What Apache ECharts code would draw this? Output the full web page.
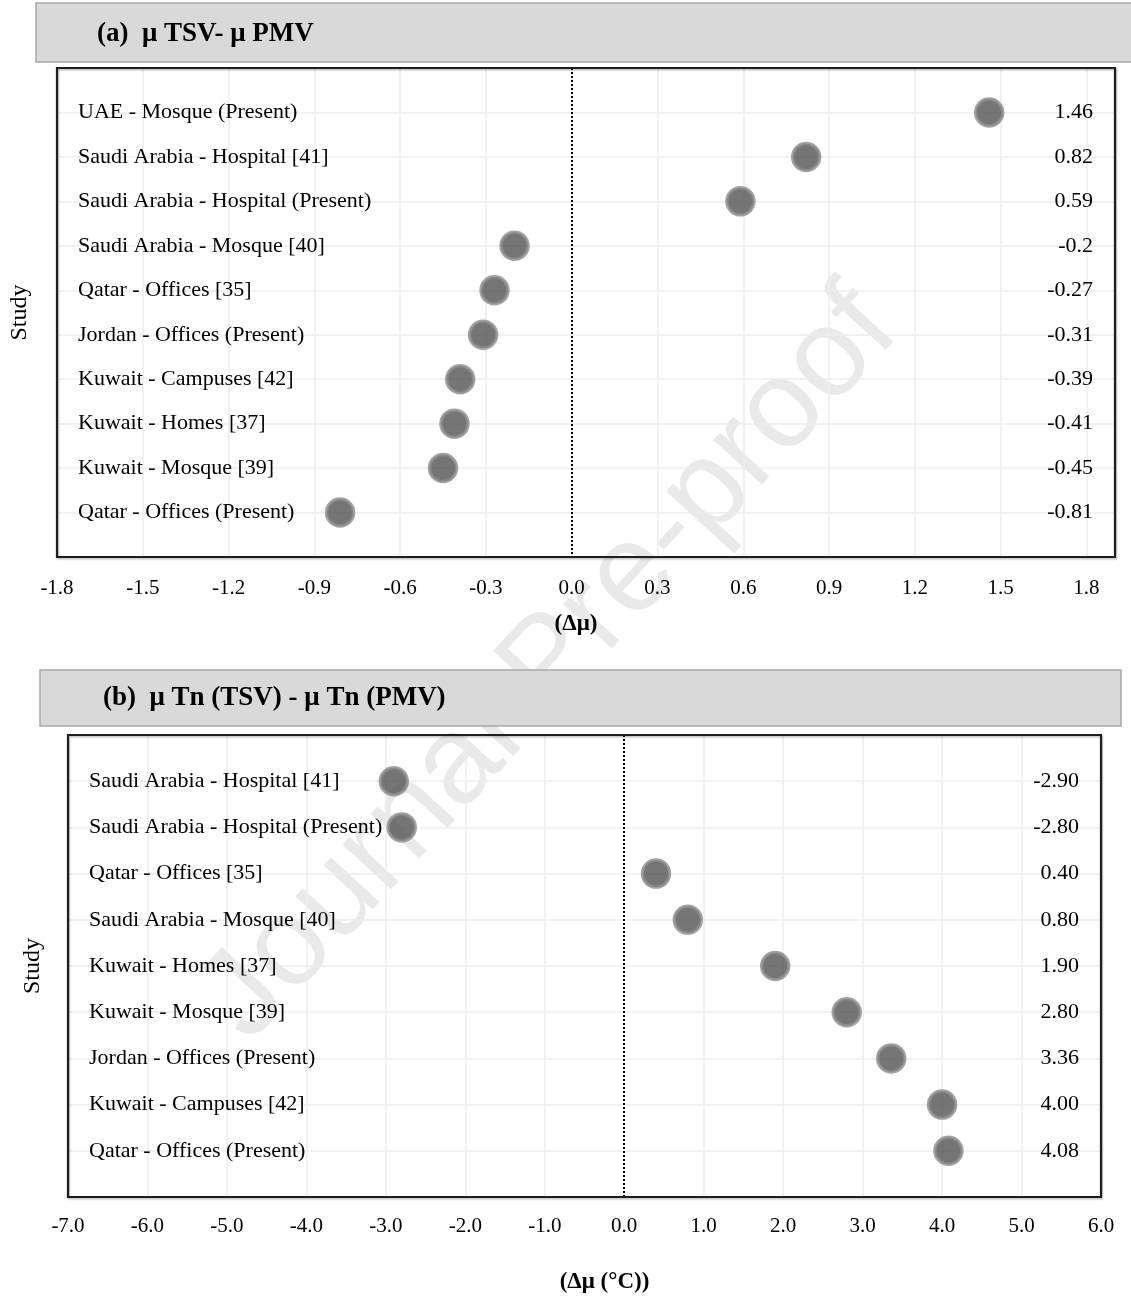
<!DOCTYPE html>
<html>
<head>
<meta charset="utf-8">
<script src="https://cdn.jsdelivr.net/npm/echarts@6/dist/echarts.min.js"></script>
<style>
html,body{margin:0;padding:0;background:#fff;}
#chart{width:1131px;height:1304px;}
</style>
</head>
<body>
<div id="chart"></div>
<script>
// Panel (a): mean TSV - mean PMV
const catsA = ['UAE - Mosque (Present)', 'Saudi Arabia - Hospital [41]', 'Saudi Arabia - Hospital (Present)', 'Saudi Arabia - Mosque [40]', 'Qatar - Offices [35]', 'Jordan - Offices (Present)', 'Kuwait - Campuses [42]', 'Kuwait - Homes [37]', 'Kuwait - Mosque [39]', 'Qatar - Offices (Present)'];
const valsA = [1.46, 0.82, 0.59, -0.2, -0.27, -0.31, -0.39, -0.41, -0.45, -0.81];
// Panel (b): mean Tn(TSV) - mean Tn(PMV)
const catsB = ['Saudi Arabia - Hospital [41]', 'Saudi Arabia - Hospital (Present)', 'Qatar - Offices [35]', 'Saudi Arabia - Mosque [40]', 'Kuwait - Homes [37]', 'Kuwait - Mosque [39]', 'Jordan - Offices (Present)', 'Kuwait - Campuses [42]', 'Qatar - Offices (Present)'];
const valsB = [-2.90, -2.80, 0.40, 0.80, 1.90, 2.80, 3.36, 4.00, 4.08];

const titleA = '(a)  \u03bc TSV- \u03bc PMV';
const titleB = '(b)  \u03bc Tn (TSV) - \u03bc Tn (PMV)';
const xNameA = '(\u0394\u03bc)';
const xNameB = '(\u0394\u03bc (\u00b0C))';

const SERIF = '"Liberation Serif", "Times New Roman", serif';
const chart = echarts.init(document.getElementById('chart'), null, {renderer: 'canvas'});

const GA = {left: 57, top: 68, width: 1058, height: 489};
const GB = {left: 68, top: 735, width: 1033, height: 462};

function yAxes(cats, vals, gridIndex, valFmt, gap) {
  const n = cats.length + 1;
  return [
    {
      type: 'value', gridIndex, min: 0, max: n, interval: 1, inverse: true,
      name: 'Study', nameLocation: 'middle', nameRotate: 90, nameGap: gap,
      nameTextStyle: {fontFamily: SERIF, fontSize: 24, color: '#000'},
      axisLine: {show: false}, axisTick: {show: false},
      splitLine: {show: true, lineStyle: {color: '#ececec', width: 1.5}},
      axisLabel: {inside: true, margin: 21, fontFamily: SERIF, fontSize: 22, color: '#000',
        showMinLabel: false, showMaxLabel: false,
        formatter: v => cats[Math.round(v) - 1] || ''}
    },
    {
      type: 'value', gridIndex, position: 'right', min: 0, max: n, interval: 1, inverse: true,
      axisLine: {show: false}, axisTick: {show: false}, splitLine: {show: false},
      axisLabel: {inside: true, margin: 22, fontFamily: SERIF, fontSize: 22, color: '#000',
        showMinLabel: false, showMaxLabel: false,
        formatter: v => { const x = vals[Math.round(v) - 1]; return x === undefined ? '' : valFmt(x); }}
    }
  ];
}

const dotStyle = {color: '#525252', borderColor: '#8d8d8d', borderWidth: 3.5};
const zeroLine = {
  silent: true, symbol: 'none', animation: false,
  label: {show: false},
  lineStyle: {type: 'dotted', color: '#000', width: 2},
  data: [{xAxis: 0}]
};

function frame(g) {
  return {type: 'rect', z: 20, silent: true,
    shape: {x: g.left, y: g.top, width: g.width, height: g.height},
    style: {fill: null, stroke: '#1e1e1e', lineWidth: 2.2,
      shadowColor: 'rgba(0,0,0,0.25)', shadowOffsetX: 1, shadowOffsetY: 1.5, shadowBlur: 1.5}};
}

const option = {
  animation: false,
  backgroundColor: '#fff',
  grid: [
    Object.assign({show: false, containLabel: false, outerBoundsMode: 'none'}, GA),
    Object.assign({show: false, containLabel: false, outerBoundsMode: 'none'}, GB)
  ],
  xAxis: [
    {
      type: 'value', gridIndex: 0, min: -1.8, max: 1.9, interval: 0.3,
      name: xNameA, nameLocation: 'middle', nameGap: 56,
      nameTextStyle: {fontFamily: SERIF, fontSize: 23, fontWeight: 'bold', color: '#000', padding: [0, 20, 0, 0]},
      axisLine: {show: false}, axisTick: {show: false},
      splitLine: {show: true, lineStyle: {color: '#ececec', width: 1.5}},
      axisLabel: {margin: 21, fontFamily: SERIF, fontSize: 21, color: '#000', showMaxLabel: false,
        formatter: v => (Math.abs(v - 1.9) < 1e-6 ? '' : v.toFixed(1))}
    },
    {
      type: 'value', gridIndex: 1, min: -7, max: 6, interval: 1,
      name: xNameB, nameLocation: 'middle', nameGap: 74,
      nameTextStyle: {fontFamily: SERIF, fontSize: 23, fontWeight: 'bold', color: '#000', padding: [0, 0, 0, 40]},
      axisLine: {show: false}, axisTick: {show: false},
      splitLine: {show: true, lineStyle: {color: '#ececec', width: 1.5}},
      axisLabel: {margin: 19, fontFamily: SERIF, fontSize: 21, color: '#000', formatter: v => v.toFixed(1)}
    }
  ],
  yAxis: [].concat(
    yAxes(catsA, valsA, 0, v => String(v), 25),
    yAxes(catsB, valsB, 1, v => v.toFixed(2), 23)
  ),
  series: [
    {
      type: 'scatter', xAxisIndex: 0, yAxisIndex: 0, symbolSize: 27,
      itemStyle: dotStyle, z: 5,
      data: valsA.map((v, i) => [v, i + 1]),
      markLine: zeroLine
    },
    {
      type: 'scatter', xAxisIndex: 1, yAxisIndex: 2, symbolSize: 27,
      itemStyle: dotStyle, z: 5,
      data: valsB.map((v, i) => [v, i + 1]),
      markLine: zeroLine
    }
  ],
  graphic: [
    {type: 'text', z: -10, x: 550, y: 665, rotation: 47.5 * Math.PI / 180,
      style: {text: 'Journal Pre-proof', font: '125px "Liberation Sans", Arial, sans-serif',
        fill: 'rgba(0,0,0,0.085)', align: 'center', verticalAlign: 'middle'}},
    {type: 'rect', z: 1, shape: {x: 36, y: 3, width: 1100, height: 59},
      style: {fill: '#d9d9d9', stroke: '#a8a8a8', lineWidth: 1.5}},
    {type: 'text', z: 2, x: 97, y: 34,
      style: {text: titleA, font: 'bold 27px ' + SERIF, fill: '#000', verticalAlign: 'middle'}},
    {type: 'rect', z: 1, shape: {x: 40, y: 670, width: 1081, height: 56},
      style: {fill: '#d9d9d9', stroke: '#a8a8a8', lineWidth: 1.5}},
    {type: 'text', z: 2, x: 103, y: 698,
      style: {text: titleB, font: 'bold 27px ' + SERIF, fill: '#000', verticalAlign: 'middle'}},
    frame(GA),
    frame(GB)
  ]
};
chart.setOption(option);
</script>
</body>
</html>
